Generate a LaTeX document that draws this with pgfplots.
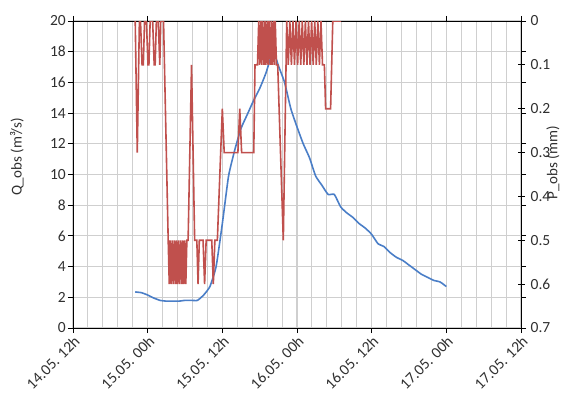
\documentclass[border=0pt]{standalone}
\usepackage{fontspec}
\setmainfont{Carlito}
\usepackage{pgfplots}
\pgfplotsset{compat=1.18}
\definecolor{qblue}{HTML}{4A7EC7}
\definecolor{pred}{HTML}{C0504D}
\definecolor{gridc}{HTML}{CFCFCF}
\definecolor{txt}{HTML}{303030}
\begin{document}
\begin{tikzpicture}[x=1bp,y=1bp]
\path[use as bounding box] (-73,-66) rectangle (492,328);
\begin{axis}[
  at={(0,0)}, anchor=south west,
  scale only axis, width=448bp, height=307bp,
  xmin=0, xmax=72, ymin=0, ymax=20,
  xtick={0,12,24,36,48,60,72},
  xticklabels={14.05. 12h,15.05. 00h,15.05. 12h,16.05. 00h,16.05. 12h,17.05. 00h,17.05. 12h},
  minor x tick num=4,
  ytick={0,2,4,6,8,10,12,14,16,18,20},
  grid=both,
  major grid style={gridc, line width=1.1bp},
  minor grid style={gridc, line width=1.1bp},
  tick align=outside, major tick length=5bp, minor tick length=0bp,
  axis line style={black, line width=0.9bp},
  tick style={black, line width=0.9bp},
  /pgf/number format/assume math mode=true,
  tick label style={font=\fontsize{15.5bp}{17bp}\selectfont, text=txt},
  xticklabel style={rotate=45, anchor=north east, inner sep=1bp},
  yticklabel style={inner sep=2bp},
  clip=false,
]
\addplot[qblue, line width=1.6bp, smooth, tension=0.3] coordinates {
(10,2.35)(11,2.3)(12,2.15)(13,1.95)(14,1.8)(15,1.75)(16,1.75)(17,1.75)(18,1.8)(19,1.8)(20,1.8)
(21,2.15)(22,2.7)(23,4.0)(24,6.8)(25,9.9)(26,11.6)(27,13.0)(28,13.9)(29,14.8)(30,15.6)
(31,16.6)(32,17.9)(32.3,18.0)(33,17.1)(34,16.0)(35,14.3)(36,13.1)(37,12.0)(38,11.1)(39,9.9)
(40,9.3)(41,8.7)(42,8.7)(43,7.9)(44,7.5)(45,7.2)(46,6.8)(47,6.5)(48,6.1)(49,5.5)
(50,5.3)(51,4.9)(52,4.6)(53,4.4)(54,4.1)(55,3.8)(56,3.5)(57,3.3)(58,3.1)(59,3.0)(60,2.7)
};
\end{axis}
\begin{axis}[
  at={(0,0)}, anchor=south west,
  scale only axis, width=448bp, height=307bp,
  xmin=0, xmax=72, ymin=0, ymax=0.7, y dir=reverse,
  axis x line=none, axis y line*=right,
  ytick={0,0.1,0.2,0.3,0.4,0.5,0.6,0.7},
  yticklabels={0,0.1,0.2,0.3,0.4,0.5,0.6,0.7},
  tick align=center, major tick length=7bp,
  axis line style={black, line width=0.9bp},
  tick style={black, line width=0.9bp},
  tick label style={font=\fontsize{15.5bp}{17bp}\selectfont, text=txt},
  yticklabel style={inner sep=2bp, xshift=4bp},
]
\addplot[pred, line width=1.6bp] coordinates {
(10.0,0)(10.33,0.3)(10.67,0)(10.85,0)(11.1,0.1)(11.3,0.1)(11.5,0)(11.8,0)(12.05,0.1)(12.2,0.1)
(12.4,0)(12.8,0)(13.05,0.1)(13.2,0.1)(13.4,0)(13.7,0)(13.95,0.1)(14.1,0)(14.55,0)
(15.3,0.5)(15.47,0.6)(15.63,0.5)(15.8,0.6)(15.97,0.5)(16.13,0.6)(16.3,0.5)(16.47,0.6)(16.63,0.5)
(16.8,0.6)(16.97,0.5)(17.13,0.6)(17.3,0.5)(17.47,0.6)(17.63,0.5)(17.8,0.6)(17.97,0.5)(18.13,0.6)(18.3,0.5)
(18.5,0.5)(19.05,0.1)(19.55,0.5)(19.9,0.5)(20.1,0.6)(20.3,0.5)(20.9,0.5)(21.15,0.6)(21.4,0.5)
(22.3,0.5)(22.55,0.6)(22.8,0.5)(23.2,0.5)(24.0,0.2)(24.3,0.3)(26.5,0.3)(26.8,0.2)(27.1,0.3)
(29.05,0.3)(29.25,0.1)(29.65,0.1)
(29.85,0)(30.0,0.1)(30.2,0)(30.35,0.1)(30.5,0)(30.7,0.1)(30.85,0)(31.0,0.1)(31.2,0)(31.35,0.1)
(31.5,0)(31.7,0.1)(31.85,0)(32.0,0.1)(32.2,0)(32.35,0.1)(32.5,0)(32.7,0.1)(32.9,0.1)
(33.8,0.5)(34.35,0)
(34.6,0.1)(34.85,0)(35.1,0.1)(35.35,0)(35.6,0.1)(35.85,0)(36.1,0.1)(36.35,0)(36.6,0.1)(36.85,0)
(37.1,0.1)(37.35,0)(37.6,0.1)(37.85,0)(38.1,0.1)(38.35,0)(38.6,0.1)(38.85,0)(39.1,0.1)(39.35,0)
(39.6,0.1)(39.85,0)(40.1,0.1)(40.4,0.1)(40.6,0.2)(41.4,0.2)(41.75,0)(43.1,0)
};
\end{axis}
\node[rotate=90, font=\fontsize{15bp}{17bp}\selectfont, text=txt] at (-56,171) {Q\_obs (m³/s)};
\node[rotate=90, font=\fontsize{15bp}{17bp}\selectfont, text=txt] at (480,165) {P\_obs (mm)};
\end{tikzpicture}
\end{document}
